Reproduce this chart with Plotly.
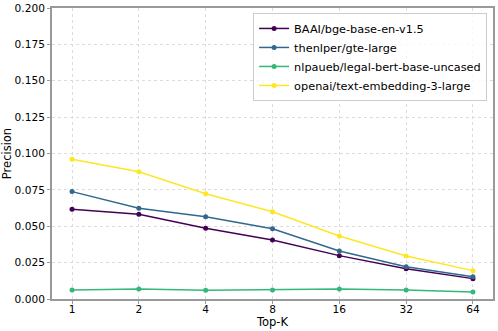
import plotly.graph_objects as go

top_k = ["1", "2", "4", "8", "16", "32", "64"]
series_names = ["BAAI/bge-base-en-v1.5", "thenlper/gte-large",
                "nlpaueb/legal-bert-base-uncased", "openai/text-embedding-3-large"]
bge = [0.0616, 0.0582, 0.0486, 0.0405, 0.0298, 0.0208, 0.0140]
gte = [0.0738, 0.0623, 0.0566, 0.0483, 0.0330, 0.0222, 0.0153]
legal = [0.0062, 0.0069, 0.0060, 0.0062, 0.0069, 0.0062, 0.0048]
openai = [0.0960, 0.0875, 0.0724, 0.0600, 0.0433, 0.0296, 0.0195]
colors = ["#440154", "#31688e", "#35b779", "#fde725"]
y_ticks = [0, 0.025, 0.05, 0.075, 0.1, 0.125, 0.15, 0.175, 0.2]

fig = go.Figure()
for name, vals, c in zip(series_names, [bge, gte, legal, openai], colors):
    fig.add_trace(go.Scatter(x=top_k, y=vals, name=name, mode="lines+markers",
                             line=dict(color=c, width=1.5),
                             marker=dict(color=c, size=5)))

axis_common = dict(showline=True, linecolor="#999999", linewidth=2, mirror=True,
                   ticks="outside", ticklen=3, tickcolor="#999999",
                   gridcolor="#dddddd", griddash="dot", gridwidth=1,
                   tickfont=dict(size=10.6, color="black"), zeroline=False,
                   automargin=False)

fig.update_layout(
    width=498, height=331,
    margin=dict(l=52, r=5, t=8, b=32),
    plot_bgcolor="white", paper_bgcolor="white",
    font=dict(family="DejaVu Sans", color="black"),
    xaxis=dict(type="category", range=[-0.3, 6.3], ticklabelstandoff=-4,
               title=dict(text="Top-K", font=dict(size=11.5), standoff=0), **axis_common),
    yaxis=dict(range=[0, 0.2], tickvals=y_ticks, tickformat=".3f",
               title=dict(text="Precision", font=dict(size=11.5), standoff=2), **axis_common),
    legend=dict(x=0.456, y=0.983, xanchor="left", yanchor="top",
                bgcolor="rgba(255,255,255,0.8)", bordercolor="#cccccc", borderwidth=1,
                font=dict(size=11.3), tracegroupgap=0, itemwidth=30),
    showlegend=True,
)

fig.write_html("out.html", config={"displayModeBar": False},
               post_script="document.body.style.margin='0px';")
